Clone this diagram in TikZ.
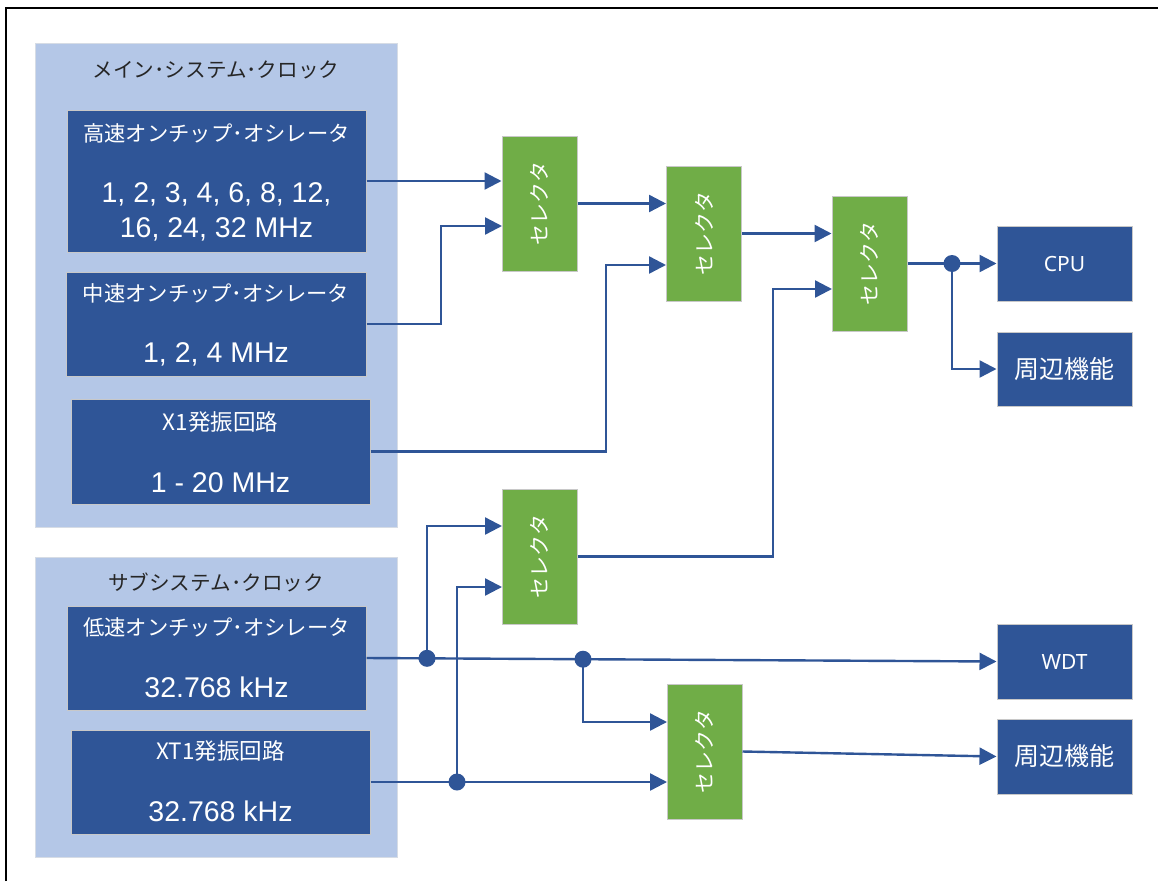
\documentclass[tikz,border=0pt]{standalone}
\usepackage{fontspec}
\setmainfont{Liberation Sans}
\newfontfamily\jp{Noto Sans CJK JP}
\newfontfamily\lat{Noto Sans}
\usetikzlibrary{arrows.meta,calc}
\definecolor{dblue}{HTML}{2F5597}
\definecolor{lblue}{HTML}{B4C7E7}
\definecolor{sgreen}{HTML}{70AD47}
\definecolor{bgray}{HTML}{C8C8C8}
\definecolor{cgray}{HTML}{D6DCE5}
\definecolor{ttext}{HTML}{262626}
\begin{document}
\begin{tikzpicture}[x=1pt,y=-1pt,
  container/.style={fill=lblue, draw=cgray, line width=0.8pt, inner sep=0pt, minimum width=362pt},
  osc/.style={fill=dblue, draw=bgray, line width=1pt, inner sep=0pt, minimum width=299pt},
  sel/.style={fill=sgreen, draw=bgray, line width=1pt, inner sep=0pt, minimum width=75pt, minimum height=135pt},
  seltext/.style={rotate=90, text=white, font=\jp\fontsize{21}{21}\selectfont, inner sep=0pt},
  outbox/.style={fill=dblue, draw=bgray, line width=1pt, inner sep=0pt, minimum width=135pt, minimum height=75pt, text=white},
  ctitle/.style={text=ttext, font=\jp\fontsize{20.6}{24}\selectfont, inner sep=0pt},
  otitle/.style={text=white, font=\jp\fontsize{21.3}{24}\selectfont, inner sep=0pt},
  xtitle/.style={text=white, font=\jp\fontsize{22.5}{24}\selectfont, inner sep=0pt},
  freq/.style={text=white, font=\fontsize{28.5}{35}\selectfont, align=center, inner sep=0pt},
  ln/.style={draw=dblue, line width=2.4pt},
  arr/.style={ln, -{Triangle[length=17pt,width=17pt]}},
  dot/.style={circle, fill=dblue, inner sep=0pt, minimum size=17pt},
]
\useasboundingbox (0,0) rectangle (1158,881);
% outer frame
\draw[black, line width=1.6pt] (6,881) -- (6,8) -- (1158,8);

% containers
\node[container, minimum height=484pt] (mainclk) at (216,285) {};
\node[container, minimum height=300pt] (subclk) at (216,707) {};
\node[ctitle] (maint) at (216,70) {メイン･システム･クロック};
\node[ctitle] (subt) at (216,582) {サブシステム･クロック};

% oscillators
\node[osc, minimum height=142pt] (hs) at (216.5,181) {};
\node[otitle] (hst) at (216.5,133) {高速オンチップ･オシレータ};
\node[freq] (hsf) at (216.5,212) {1, 2, 3, 4, 6, 8, 12,\\16, 24, 32 MHz};

\node[osc, minimum width=300pt, minimum height=104pt] (ms) at (216,324) {};
\node[otitle] (mst) at (216,293) {中速オンチップ･オシレータ};
\node[freq] (msf) at (216,354) {1, 2, 4 MHz};

\node[osc, minimum height=105pt] (x1) at (220.5,451.5) {};
\node[xtitle] (x1t) at (220.5,422) {X1発振回路};
\node[freq] (x1f) at (220.5,483) {1 - 20 MHz};

\node[osc, minimum height=104pt] (ls) at (216.5,658) {};
\node[otitle] (lst) at (216.5,627) {低速オンチップ･オシレータ};
\node[freq] (lsf) at (216.5,687) {32.768 kHz};

\node[osc, minimum height=104pt] (xt1) at (220.5,782) {};
\node[xtitle] (xt1t) at (220.5,751) {XT1発振回路};
\node[freq] (xt1f) at (220.5,811) {32.768 kHz};

% selectors
\node[sel] (s1) at (539.5,203.5) {};
\node[sel] (s2) at (704,233.5) {};
\node[sel] (s3) at (869.5,263.5) {};
\node[sel] (s4) at (539.5,556.5) {};
\node[sel] (s5) at (704.5,751.5) {};
\foreach \s in {s1,s2,s3,s4,s5}{
  \node[seltext] (\s t) at (\s) {セレクタ};
}

% outputs
\node[outbox, font=\lat\fontsize{21}{24}\selectfont] (cpu) at (1064.5,263.5) {CPU};
\node[outbox, minimum height=74pt, font=\jp\fontsize{25}{28}\selectfont] (per1) at (1064.5,369) {周辺機能};
\node[outbox, font=\lat\fontsize{21}{24}\selectfont] (wdt) at (1064.5,661.5) {WDT};
\node[outbox, font=\jp\fontsize{25}{28}\selectfont] (per2) at (1064.5,756.5) {周辺機能};

% input coordinates
\coordinate (s1b) at (502,226);
\coordinate (s2b) at (666,265);
\coordinate (s3b) at (832,289);
\coordinate (s4a) at (502,526);
\coordinate (s4b) at (502,587);
\coordinate (s5a) at (667,722);
\coordinate (s5b) at (667,782);

% junctions
\node[dot] (d1) at (427,658.3) {};
\node[dot] (d2) at (583,659.2) {};
\node[dot] (d3) at (457,782) {};
\node[dot] (d4) at (952,263.5) {};

% connectors
\draw[arr] (hs.east) -- (hs.east -| s1.west);
\draw[arr] (ms.east) -| ($(s1b)+(-61,0)$) -- (s1b);
\draw[arr] (s1.east) -- (s1.east -| s2.west);
\draw[arr] (x1.east) -| ($(s2b)+(-60,0)$) -- (s2b);
\draw[arr] (s2.east) -- (s2.east -| s3.west);
\draw[arr] (s4.east) -| ($(s3b)+(-59,0)$) -- (s3b);
\draw[arr] (s3.east) -- (cpu.west);
\draw[arr] (d4.center) |- (per1.west);
\draw[arr] (ls.east) -- (wdt.west);
\draw[arr] (d1.center) |- (s4a);
\draw[arr] (xt1.east) -- (s5b);
\draw[arr] (d3.center) |- (s4b);
\draw[arr] (d2.center) |- (s5a);
\draw[arr] (s5.east) -- (per2.west);
\end{tikzpicture}
\end{document}
